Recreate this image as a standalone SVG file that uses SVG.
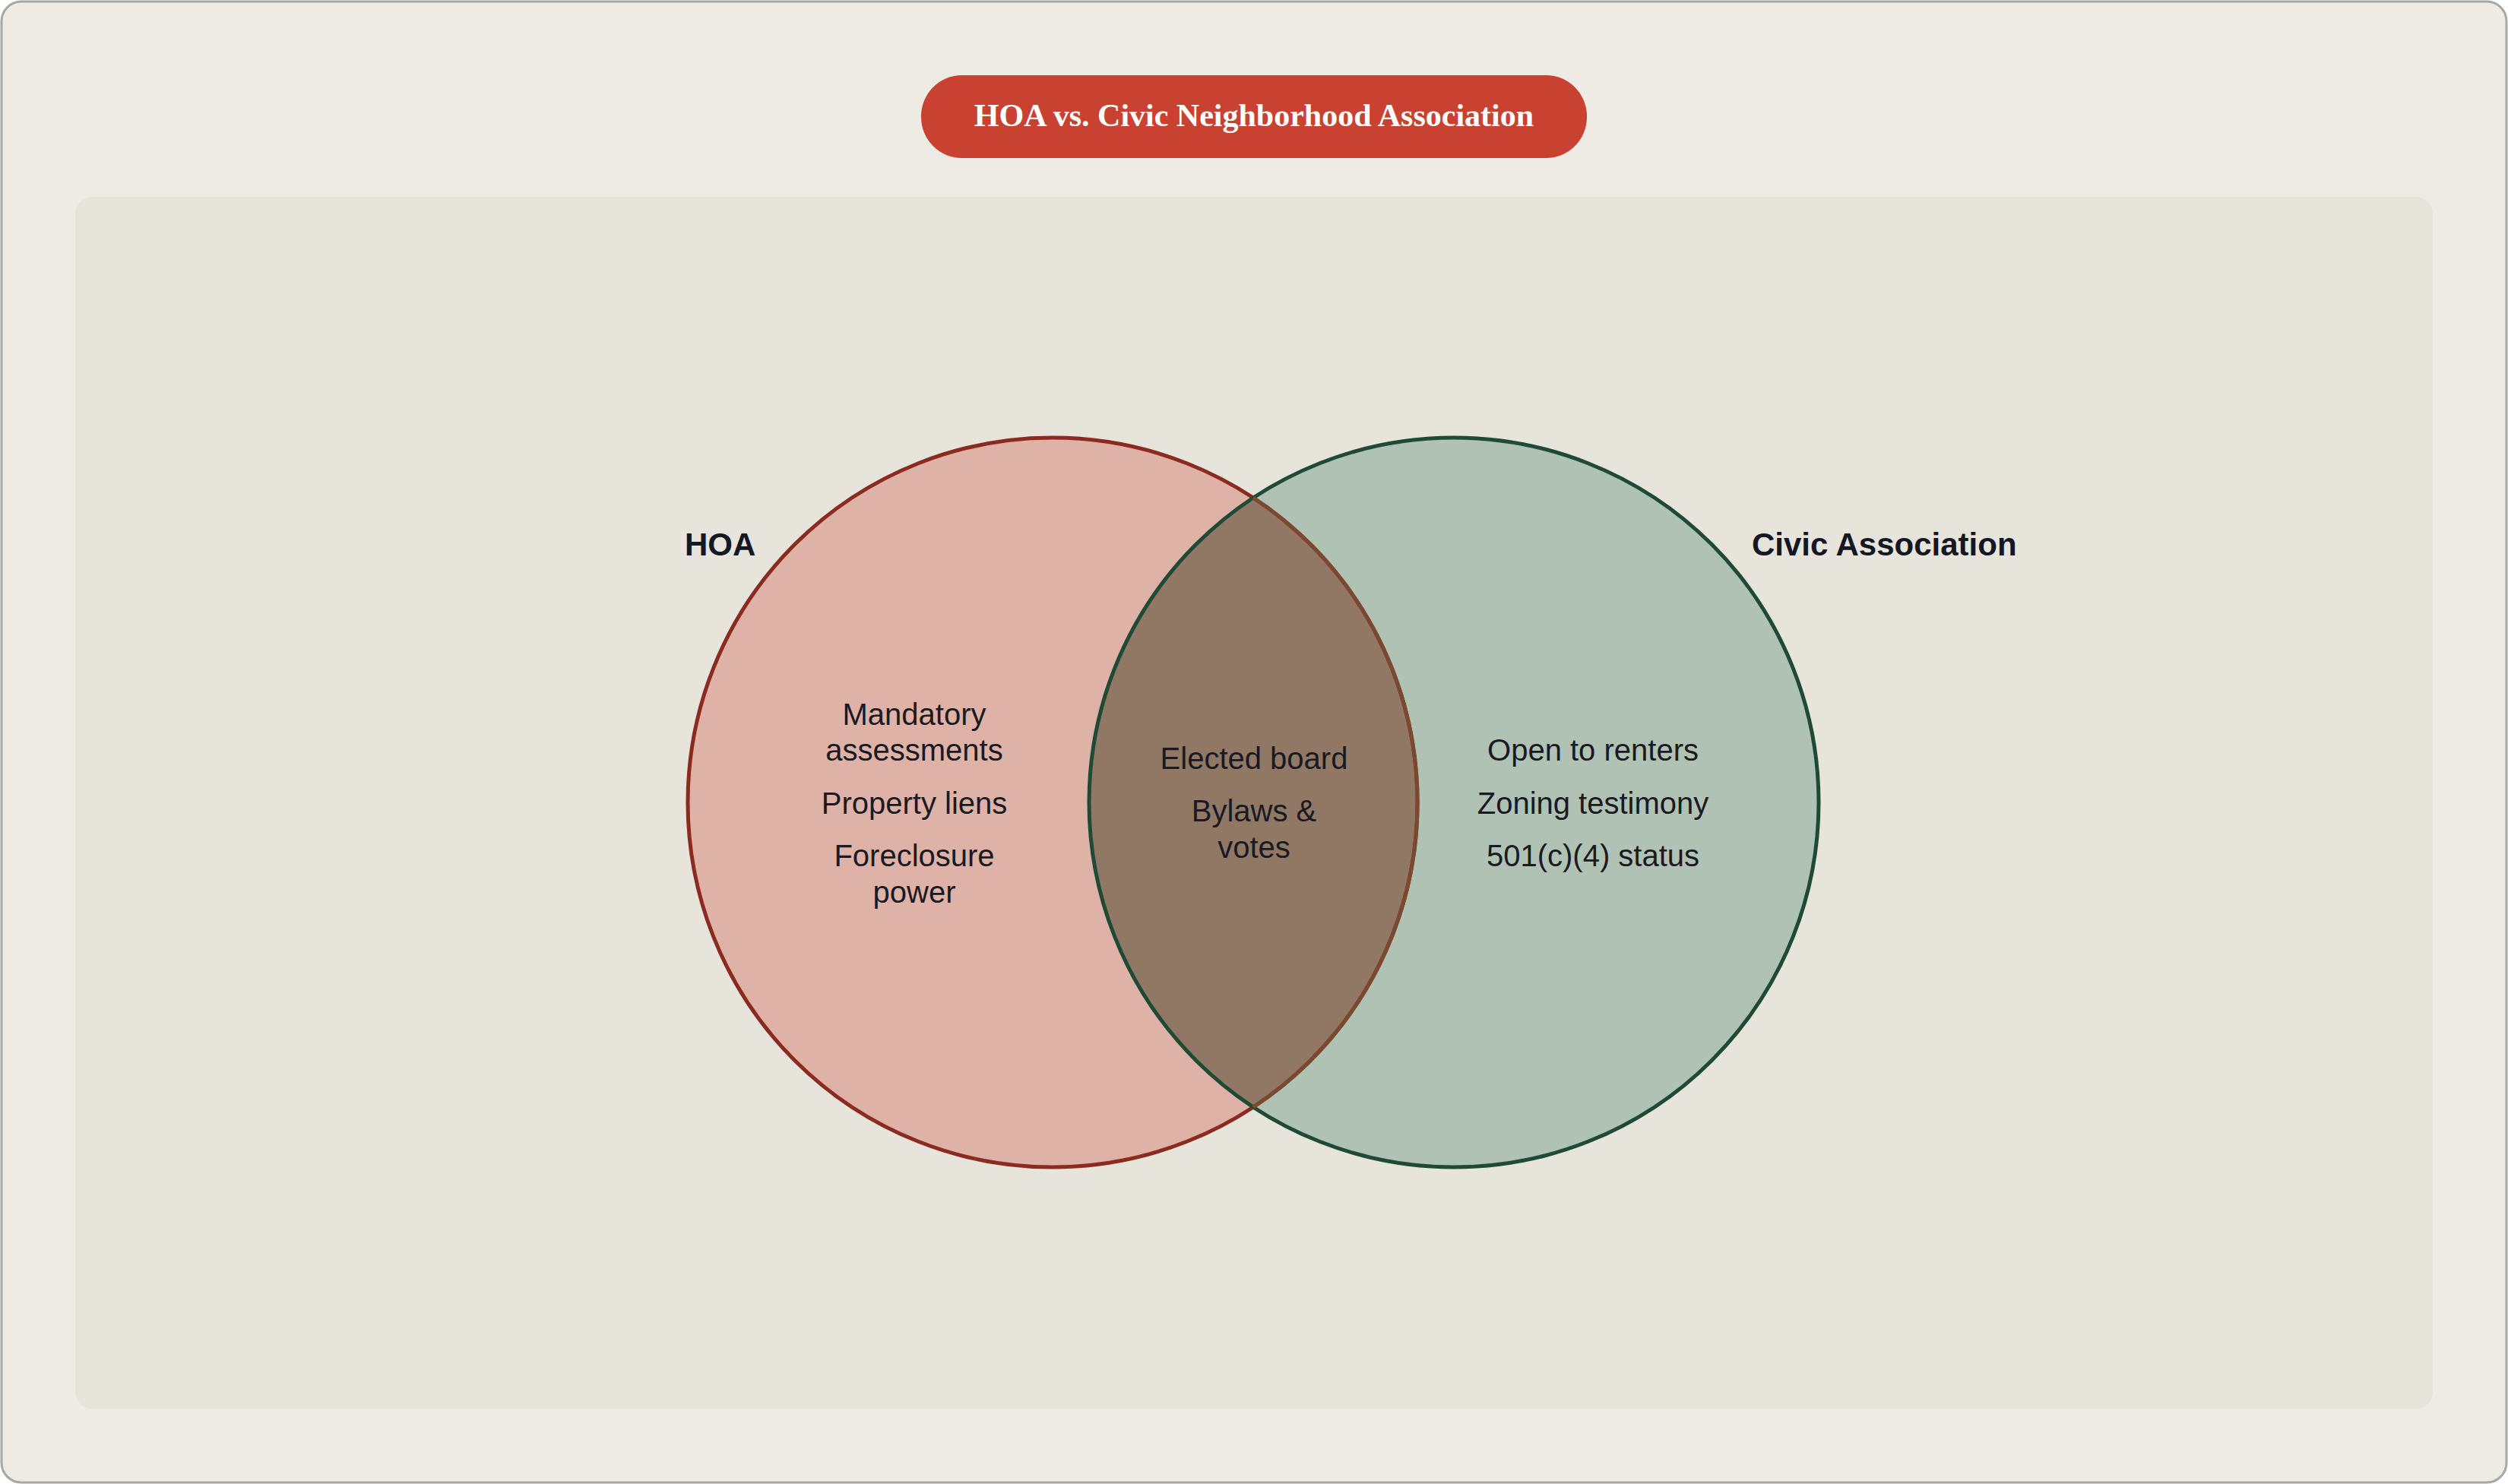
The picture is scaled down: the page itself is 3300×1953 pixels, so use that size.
<svg xmlns="http://www.w3.org/2000/svg" width="3300" height="1953" viewBox="0 0 3300 1953">
<style>
.lbl{font-family:"Liberation Sans",Arial,sans-serif;font-size:40px;fill:#1a1a22;text-anchor:middle}
.set{font-family:"Liberation Sans",Arial,sans-serif;font-size:42px;font-weight:bold;fill:#141824}
</style>
<rect x="2" y="2" width="3296" height="1949" rx="26" fill="#EDEBE3" stroke="#A8A8A4" stroke-width="3"/>
<rect x="99" y="259" width="3102" height="1595" rx="22" fill="#E7E4DC"/>
<g id="title">
<rect x="1212" y="99" width="876" height="109" rx="54" fill="#C94130"/>
<text x="1650" y="166" text-anchor="middle" font-family="'Liberation Serif','DejaVu Serif',serif" font-weight="bold" font-size="42" fill="#ffffff">HOA vs. Civic Neighborhood Association</text>
</g>
<g id="hoa">
<circle cx="1385" cy="1056" r="480" fill="#DFB2A7"/>
</g>
<g id="civic">
<circle cx="1913" cy="1056" r="480" fill="#B0C2B4"/>
</g>
<g id="overlap">
<path d="M1649,655 A480,480 0 0 1 1649,1457 A480,480 0 0 1 1649,655 Z" fill="#907864"/>
</g>
<g id="outlines" fill="none" stroke-width="5">
<circle cx="1385" cy="1056" r="480" stroke="#8B2A1F"/>
<circle cx="1913" cy="1056" r="480" stroke="#1F4A35"/>
<path d="M1649,655 A480,480 0 0 1 1649,1457" stroke="#7A4A30"/>
</g>
<text class="set" x="901" y="731">HOA</text>
<text class="set" x="2305" y="731">Civic Association</text>
<g class="lbl">
<text class="lbl" x="1203" y="954">Mandatory</text>
<text class="lbl" x="1203" y="1001">assessments</text>
<text class="lbl" x="1203" y="1071">Property liens</text>
<text class="lbl" x="1203" y="1140">Foreclosure</text>
<text class="lbl" x="1203" y="1188">power</text>
<text class="lbl" x="1650" y="1012">Elected board</text>
<text class="lbl" x="1650" y="1081">Bylaws &amp;</text>
<text class="lbl" x="1650" y="1129">votes</text>
<text class="lbl" x="2096" y="1001">Open to renters</text>
<text class="lbl" x="2096" y="1071">Zoning testimony</text>
<text class="lbl" x="2096" y="1140">501(c)(4) status</text>
</g>
</svg>
